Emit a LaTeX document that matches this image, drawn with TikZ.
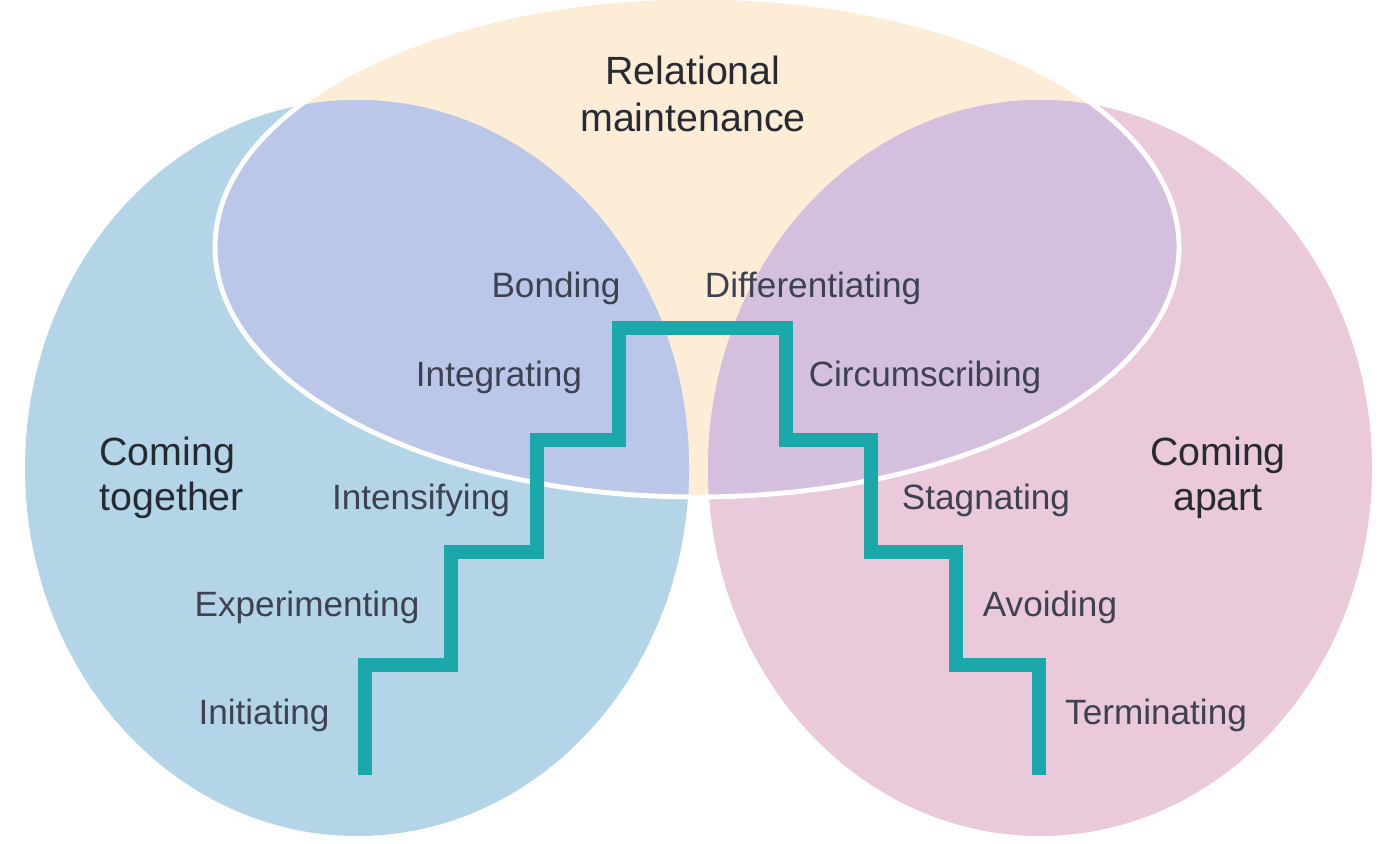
\documentclass[tikz,border=0pt]{standalone}
\usepackage{fontspec}
\setmainfont{Liberation Sans}
\usepackage{tikz}
\usetikzlibrary{backgrounds}
\definecolor{beige}{RGB}{253,236,214}
\definecolor{blueegg}{RGB}{180,213,231}
\definecolor{pinkegg}{RGB}{233,201,218}
\definecolor{lavender}{RGB}{186,199,232}
\definecolor{mauve}{RGB}{213,191,223}
\definecolor{stairteal}{RGB}{26,168,171}
\definecolor{labelgray}{RGB}{62,66,80}
\definecolor{headgray}{RGB}{40,42,50}
\tikzset{every picture/.style={line width=1pt},
stage/.style={text=labelgray,font=\fontsize{10}{12}\selectfont},
phase/.style={text=headgray,font=\fontsize{11.2}{12.8}\selectfont},
stair/.style={draw=stairteal,line width=4pt,line join=miter}}

\begin{document}
\begin{tikzpicture}
\useasboundingbox (0,0) rectangle (13.89,-8.43);
\fill[white] (0,0) rectangle (13.89,-8.43);

% relational maintenance
\fill[beige] (6.97,-2.47) ellipse (4.82 and 2.50);
% coming together / coming apart
\fill[blueegg] (3.57,-4.68) ellipse (3.32 and 3.68);
\fill[pinkegg] (10.40,-4.68) ellipse (3.32 and 3.68);
\begin{scope}
\clip (6.97,-2.47) ellipse (4.82 and 2.50);
\fill[lavender] (3.57,-4.68) ellipse (3.32 and 3.68);
\fill[mauve] (10.40,-4.68) ellipse (3.32 and 3.68);
\end{scope}
\draw[white,line width=1.4pt] (6.97,-2.47) ellipse (4.82 and 2.50);

% the staircase
\draw[stair] (3.65,-7.75) |- (4.51,-6.65) |- (5.37,-5.52) |- (6.19,-4.40) |- (7.86,-3.28)
  -- (7.86,-4.40) -| (8.71,-5.52) -| (9.56,-6.65) -| (10.39,-7.75);

\node[phase,align=center] (rel) at (6.93,-0.94) {Relational\\[0.5pt]maintenance};
\node[phase,align=left,anchor=west] (tog) at (0.86,-4.78) {Coming\\together};
\node[phase,align=center] (apt) at (12.18,-4.78) {Coming\\apart};

\foreach \n/\x/\y/\t in {ini/2.64/7.15/Initiating, exp/3.07/6.07/Experimenting,
  ins/4.21/5.00/Intensifying, itg/4.99/3.77/Integrating, bon/5.56/2.88/Bonding,
  dif/8.13/2.88/Differentiating, cir/9.25/3.77/Circumscribing, stg/9.86/5.00/Stagnating,
  avo/10.50/6.07/Avoiding, ter/11.56/7.15/Terminating} {
\node[stage] (\n) at (\x,-\y) {\t};
}
\end{tikzpicture}
\end{document}
